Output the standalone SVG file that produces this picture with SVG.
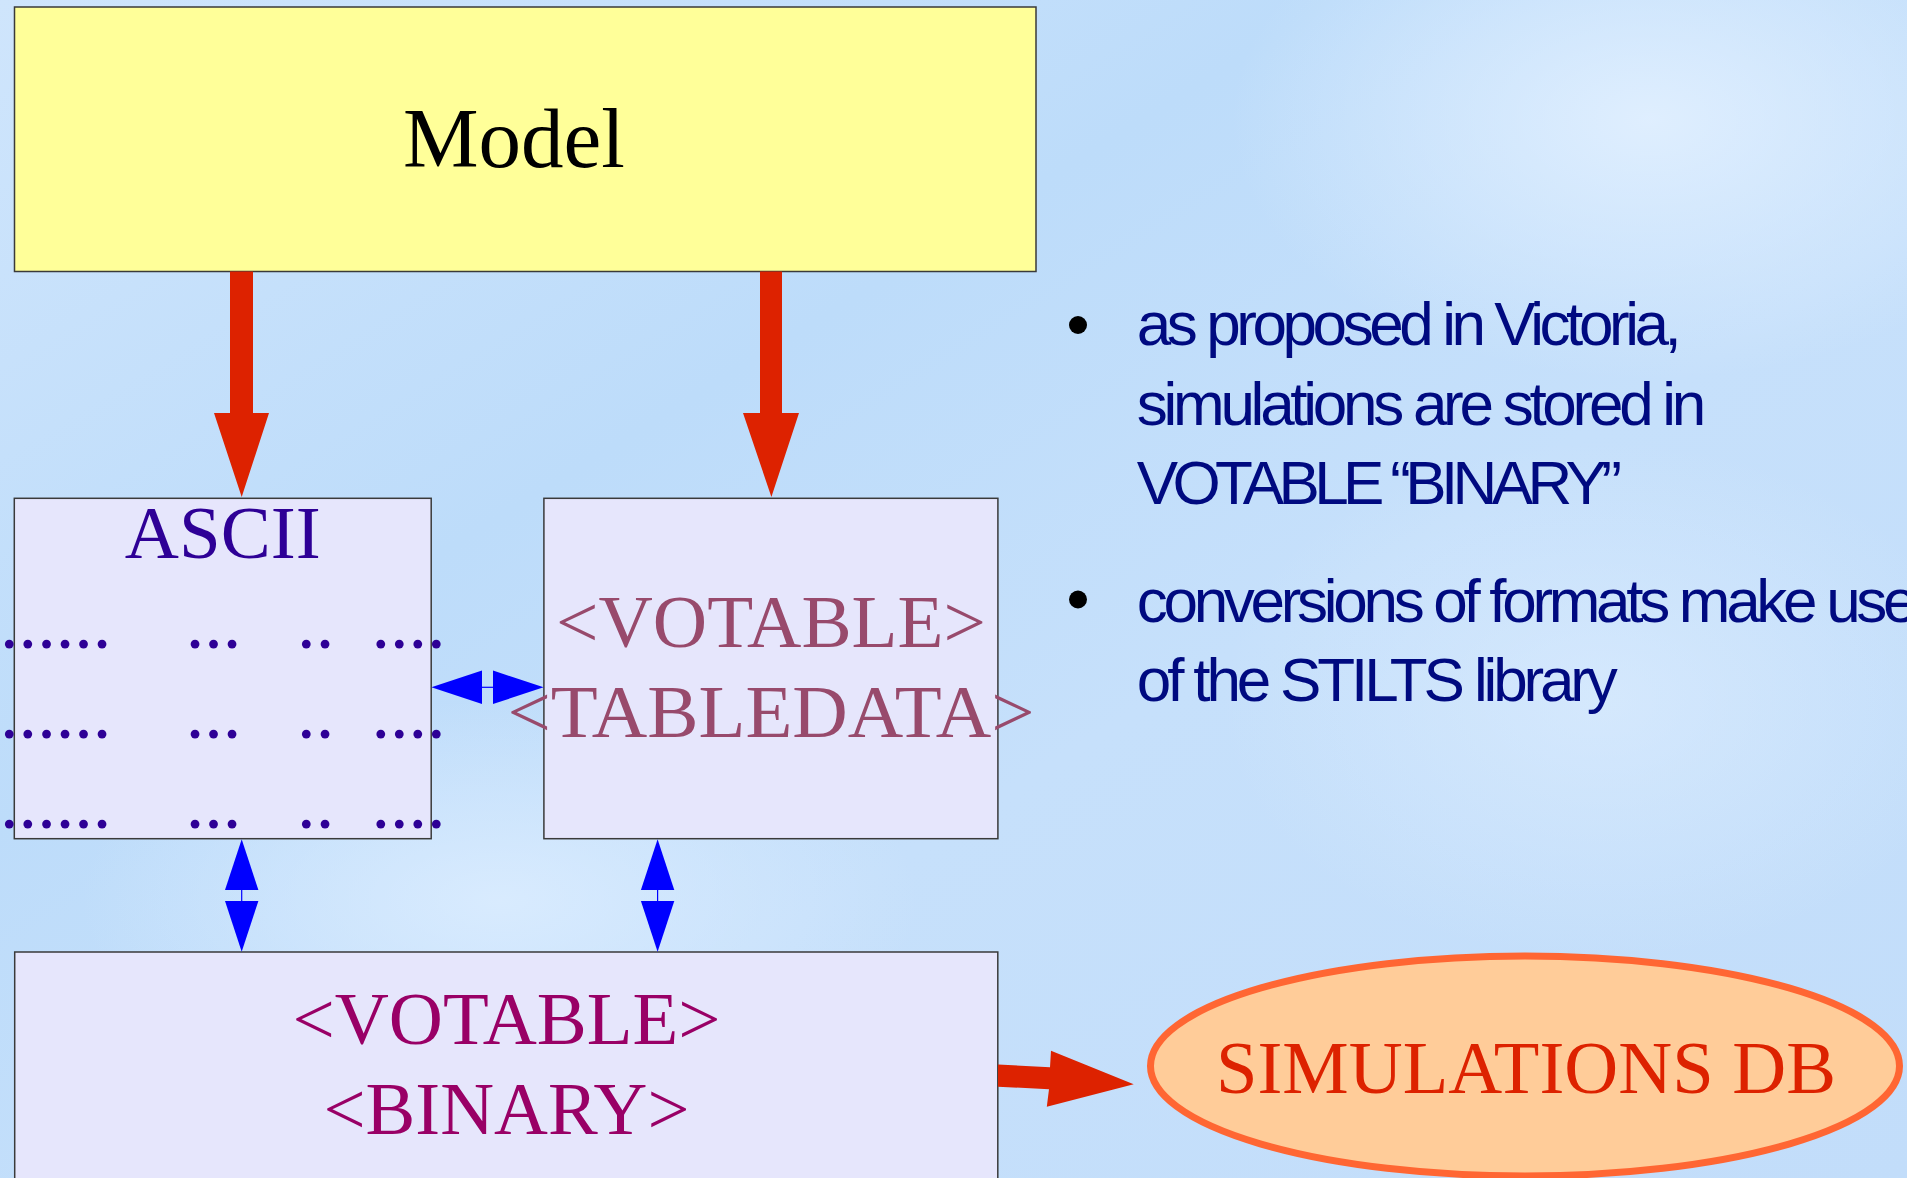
<svg xmlns="http://www.w3.org/2000/svg" width="1907" height="1178" viewBox="0 0 1907 1178">
  <defs>
    <linearGradient id="bg" x1="0" y1="0" x2="1" y2="1">
      <stop offset="0" stop-color="#cfe5fc"/>
      <stop offset="0.35" stop-color="#bddcfa"/>
      <stop offset="0.6" stop-color="#c6e0fb"/>
      <stop offset="1" stop-color="#c2ddfa"/>
    </linearGradient>
    <radialGradient id="glowTR" cx="0.5" cy="0.5" r="0.5">
      <stop offset="0" stop-color="#e2f0ff" stop-opacity="0.9"/>
      <stop offset="1" stop-color="#e2f0ff" stop-opacity="0"/>
    </radialGradient>
    <radialGradient id="glowBL" cx="0.5" cy="0.5" r="0.5">
      <stop offset="0" stop-color="#dcedff" stop-opacity="0.85"/>
      <stop offset="1" stop-color="#dcedff" stop-opacity="0"/>
    </radialGradient>
    <style>
      .box { fill: #e6e6fc; stroke: #3a3a3a; stroke-width: 1.5; }
      .serif { font-family: "Liberation Serif", "Times New Roman", serif; }
      .sans { font-family: "Liberation Sans", Arial, sans-serif; }
      .ascii { fill: #2e0096; }
      .tabledata { fill: #984a6c; }
      .binary { fill: #990066; }
      .bullet-text { fill: #000a80; font-size: 62px; }
      .red { fill: #dd2200; }
      .blue { fill: #0000ff; }
      .blue-line { stroke: #0000ff; stroke-width: 1.2; fill: none; }
    </style>
  </defs>

  <!-- background -->
  <rect x="0" y="0" width="1907" height="1178" fill="url(#bg)"/>
  <ellipse cx="1650" cy="120" rx="420" ry="260" fill="url(#glowTR)"/>
  <ellipse cx="500" cy="900" rx="420" ry="200" fill="url(#glowBL)"/>
  <ellipse cx="1600" cy="700" rx="380" ry="260" fill="url(#glowTR)" opacity="0.6"/>

  <!-- Model -->
  <g id="model">
    <rect x="14.5" y="7" width="1021.5" height="264.5" fill="#ffff99" stroke="#3a3a3a" stroke-width="1.5"/>
    <text class="serif" x="514" y="166.5" font-size="85" text-anchor="middle" fill="#000">Model</text>
  </g>

  <!-- ASCII table -->
  <g id="ascii">
    <rect class="box" x="14.3" y="498.3" width="416.9" height="340.4"/>
    <text class="serif ascii" x="222.7" y="558.3" font-size="75" text-anchor="middle">ASCII</text>
    <g class="serif ascii" font-size="74.3">
      <text y="648"><tspan x="0">......</tspan><tspan x="185.7">...</tspan><tspan x="297.1">..</tspan><tspan x="371.4">....</tspan></text>
      <text y="738"><tspan x="0">......</tspan><tspan x="185.7">...</tspan><tspan x="297.1">..</tspan><tspan x="371.4">....</tspan></text>
      <text y="828"><tspan x="0">......</tspan><tspan x="185.7">...</tspan><tspan x="297.1">..</tspan><tspan x="371.4">....</tspan></text>
    </g>
  </g>

  <!-- VOTABLE TABLEDATA -->
  <g id="votable-tabledata">
    <rect class="box" x="543.9" y="498.3" width="454" height="340.4"/>
    <text class="serif tabledata" x="771" y="647.3" font-size="75" text-anchor="middle" textLength="430" lengthAdjust="spacingAndGlyphs">&lt;VOTABLE&gt;</text>
    <text class="serif tabledata" x="771" y="737.3" font-size="75" text-anchor="middle" textLength="527" lengthAdjust="spacingAndGlyphs">&lt;TABLEDATA&gt;</text>
  </g>

  <!-- VOTABLE BINARY -->
  <g id="votable-binary">
    <rect class="box" x="14.7" y="952" width="983.1" height="240"/>
    <text class="serif binary" x="506.5" y="1044" font-size="74" text-anchor="middle" textLength="428" lengthAdjust="spacingAndGlyphs">&lt;VOTABLE&gt;</text>
    <text class="serif binary" x="506.5" y="1134" font-size="74" text-anchor="middle" textLength="366" lengthAdjust="spacingAndGlyphs">&lt;BINARY&gt;</text>
  </g>

  <!-- Simulations database -->
  <g id="simulations-db">
    <ellipse cx="1525" cy="1066" rx="374.5" ry="110" fill="#ffcc99" stroke="#ff6633" stroke-width="7"/>
    <text class="serif" x="1526" y="1093.3" font-size="74" text-anchor="middle" textLength="620" lengthAdjust="spacingAndGlyphs" fill="#dd2200">SIMULATIONS DB</text>
  </g>

  <!-- Notes -->
  <g id="notes">
    <circle cx="1078" cy="325" r="9"/>
    <circle cx="1078" cy="599.5" r="9"/>
    <g class="sans bullet-text">
      <text x="1136.8" y="345" textLength="545" lengthAdjust="spacing">as proposed in Victoria,</text>
      <text x="1136.8" y="425" textLength="569.5" lengthAdjust="spacing">simulations are stored in</text>
      <text x="1136.8" y="504" textLength="485" lengthAdjust="spacing">VOTABLE “BINARY”</text>
      <text x="1136.8" y="621.7" letter-spacing="-4.3">conversions of formats make use</text>
      <text x="1136.8" y="700.7" textLength="481" lengthAdjust="spacing">of the STILTS library</text>
    </g>
  </g>

  <!-- Connectors -->
  <g id="connectors">
    <!-- Model to ASCII -->
    <polygon class="red" points="230,271.5 253,271.5 253,413 269,413 241.7,497 214,413 230,413"/>
    <!-- Model to TABLEDATA -->
    <polygon class="red" points="760,271.5 782,271.5 782,413 799,413 771.4,497 743,413 760,413"/>
    <!-- ASCII <-> TABLEDATA -->
    <line class="blue-line" x1="482" y1="687.3" x2="493" y2="687.3"/>
    <polygon class="blue" points="431.4,687.3 482,670.6 482,704"/>
    <polygon class="blue" points="543.6,687.3 493,670.6 493,704"/>
    <!-- ASCII <-> BINARY -->
    <line class="blue-line" x1="241.7" y1="890" x2="241.7" y2="901"/>
    <polygon class="blue" points="241.7,839.3 225,890 258.4,890"/>
    <polygon class="blue" points="241.7,951.7 225,901 258.4,901"/>
    <!-- TABLEDATA <-> BINARY -->
    <line class="blue-line" x1="657.6" y1="890" x2="657.6" y2="901"/>
    <polygon class="blue" points="657.6,839.3 640.9,890 674.3,890"/>
    <polygon class="blue" points="657.6,951.7 640.9,901 674.3,901"/>
    <!-- BINARY to database -->
    <polygon class="red" points="998,1064.5 1050,1067.3 1051,1050.7 1133.7,1084.3 1046.8,1106.7 1049,1089.3 998,1086.7"/>
  </g>
</svg>
